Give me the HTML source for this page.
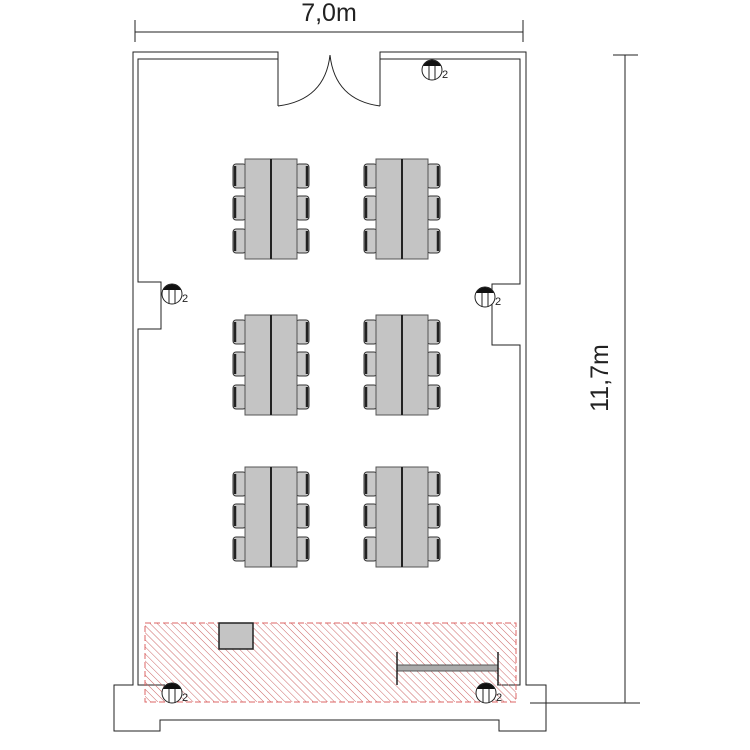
<!DOCTYPE html>
<html><head><style>body{margin:0;background:#fff}svg{display:block}</style></head><body>
<svg width="750" height="750" viewBox="0 0 750 750" xmlns="http://www.w3.org/2000/svg" font-family="Liberation Sans, sans-serif">
<defs>
<pattern id="h" width="5" height="5" patternUnits="userSpaceOnUse" patternTransform="rotate(-45)">
<line x1="0" y1="0" x2="0" y2="5" stroke="#c66" stroke-width="1"/>
</pattern>
<g id="chairL">
<rect x="0" y="0" width="13" height="24" rx="3" fill="#c8c8c8" stroke="#333" stroke-width="1"/>
<line x1="2" y1="2" x2="2" y2="22" stroke="#222" stroke-width="2.5"/>
</g>
<g id="chairR">
<rect x="0" y="0" width="13" height="24" rx="3" fill="#c8c8c8" stroke="#333" stroke-width="1"/>
<line x1="11" y1="2" x2="11" y2="22" stroke="#222" stroke-width="2.5"/>
</g>
<g id="tbl">
<use href="#chairL" x="-12" y="5"/><use href="#chairL" x="-12" y="37"/><use href="#chairL" x="-12" y="70"/>
<use href="#chairR" x="51" y="5"/><use href="#chairR" x="51" y="37"/><use href="#chairR" x="51" y="70"/>
<rect x="0" y="0" width="52" height="100" fill="#c4c4c4" stroke="#555" stroke-width="1"/>
<line x1="26" y1="0" x2="26" y2="100" stroke="#222" stroke-width="2"/>
</g>
<g id="sens">
<circle cx="0" cy="0" r="10" fill="#fff" stroke="#222" stroke-width="1"/>
<path d="M-9,-4 A10,10 0 0 1 9,-4 Z" fill="#111"/>
<line x1="-3" y1="-4" x2="-3" y2="10" stroke="#222"/><line x1="3" y1="-4" x2="3" y2="10" stroke="#222"/>
<text x="10" y="8" font-size="11" fill="#222">2</text>
</g>
</defs>
<g fill="none" stroke="#222" stroke-width="1">
<line x1="135" y1="32" x2="523" y2="32"/><line x1="135" y1="20" x2="135" y2="42"/><line x1="523" y1="20" x2="523" y2="42"/>
<line x1="625" y1="55" x2="625" y2="703"/><line x1="613" y1="55" x2="638" y2="55"/><line x1="530" y1="703" x2="640" y2="703"/>
<path d="M278,106 V52 H133 V685 H114 V731 H160 V720 H499 V731 H546 V685 H526 V52 H380 V106"/>
<path d="M278,106 V59 H138 V282 H161 V329 H138 V685 H165"/>
<path d="M380,106 V59 H520 V284 H492 V345 H520 V685 H497"/>
<path d="M278,106 Q325,100 330,55"/><path d="M380,106 Q335,100 330,55"/>
</g>
<text x="329" y="21" font-size="25" text-anchor="middle" fill="#222">7,0m</text>
<text transform="translate(608,378) rotate(-90)" font-size="25" text-anchor="middle" fill="#222">11,7m</text>
<use href="#tbl" x="245" y="159"/><use href="#tbl" x="376" y="159"/>
<use href="#tbl" x="245" y="315"/><use href="#tbl" x="376" y="315"/>
<use href="#tbl" x="245" y="467"/><use href="#tbl" x="376" y="467"/>
<rect x="145" y="623" width="371" height="79" fill="url(#h)" stroke="#d66" stroke-dasharray="6,3"/>
<rect x="219" y="623" width="34" height="26" fill="#c4c4c4" stroke="#222" stroke-width="1.5"/>
<rect x="397" y="665" width="101" height="6" fill="#aaa" stroke="#555"/>
<line x1="397" y1="652" x2="397" y2="685" stroke="#222" stroke-width="1.5"/>
<line x1="498" y1="652" x2="498" y2="685" stroke="#222" stroke-width="1.5"/>
<use href="#sens" x="432" y="70"/><use href="#sens" x="172" y="294"/><use href="#sens" x="485" y="297"/>
<use href="#sens" x="172" y="693"/><use href="#sens" x="486" y="693"/>
</svg>
</body></html>
